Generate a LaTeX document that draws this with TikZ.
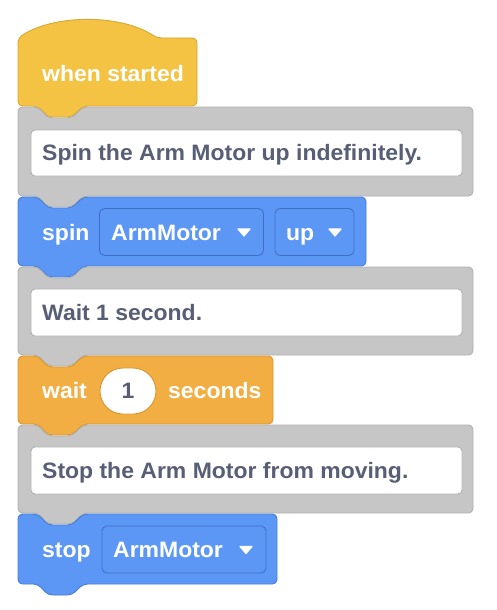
\documentclass[tikz,border=0pt]{standalone}
\usepackage{fontspec}
\setmainfont{Liberation Sans}[FakeStretch=1.03]
\definecolor{hatY}{RGB}{244,195,68}
\definecolor{hatYb}{RGB}{214,168,52}
\definecolor{blueB}{RGB}{92,151,246}
\definecolor{blueBb}{RGB}{70,124,214}
\definecolor{blueDd}{RGB}{62,112,200}
\definecolor{orgB}{RGB}{242,174,66}
\definecolor{orgBb}{RGB}{214,150,50}
\definecolor{grayB}{RGB}{198,198,198}
\definecolor{grayBb}{RGB}{176,176,176}
\definecolor{txtD}{RGB}{87,94,117}
\tikzset{
  blk/.style={line width=0.9pt, rounded corners=4.5pt, line join=round},
  hatblk/.style={blk, fill=hatY, draw=hatYb},
  blueblk/.style={blk, fill=blueB, draw=blueBb},
  orgblk/.style={blk, fill=orgB, draw=orgBb},
  grayblk/.style={blk, fill=grayB, draw=grayBb},
  cbox/.style={fill=white, draw=grayBb, line width=0.9pt, rounded corners=4pt},
  ddbox/.style={fill=blueB, draw=blueDd, line width=0.9pt, rounded corners=5pt},
  wtxt/.style={anchor=base west, inner sep=0pt, text=white, font=\fontsize{22.3}{26}\selectfont\bfseries},
  dtxt/.style={anchor=base west, inner sep=0pt, text=txtD, font=\fontsize{22.3}{26}\selectfont\bfseries},
  tri/.style={fill=white, draw=white, line width=1.2pt, line join=round}
}
\newcommand\stackshape[5]{%
  \path[#5] (#1,{(#2+#4)/2}) -- (#1,#2) -- ({#1+20},#2) -- ({#1+30},{#2+11}) -- ({#1+54},{#2+11}) -- ({#1+65},#2) -- (#3,#2) -- (#3,#4) -- ({#1+65},#4) -- ({#1+54},{#4+11}) -- ({#1+30},{#4+11}) -- ({#1+20},#4) -- (#1,#4) -- cycle;}
\newcommand\ddtri[2]{%
  \path[tri] ({#1-6},{#2-3.5}) -- ({#1+6},{#2-3.5}) -- (#1,{#2+3.5}) -- cycle;}
\begin{document}
\begin{tikzpicture}[x=1pt,y=-1pt]
\useasboundingbox (0,0) rectangle (496,610);
% hat block
\path[hatblk] (18,70) -- (18,38) .. controls (54,14) and (121,14) .. (157,38) -- (197,38) -- (197,106) -- (83,106) -- (72,117) -- (48,117) -- (38,106) -- (18,106) -- cycle;
\node[wtxt] (hatT) at (42,81.5) {when started};
% comment 1
\stackshape{18}{107}{473}{196}{grayblk}
\path[cbox] (31,130) rectangle (462,176);
\node[dtxt] (c1) at (42,160.5) {Spin the Arm Motor up indefinitely.};
% spin block
\stackshape{18}{197}{366}{266}{blueblk}
\node[wtxt] (spinT) at (42,240) {spin};
\path[ddbox] (99.5,208.5) rectangle (263.5,255.5);
\node[wtxt] (dd1) at (111,240) {ArmMotor};
\ddtri{244}{232.5}
\path[ddbox] (275,208.5) rectangle (354,255.5);
\node[wtxt] (dd2) at (286,240) {up};
\ddtri{335}{232.5}
% comment 2
\stackshape{18}{267}{473}{355}{grayblk}
\path[cbox] (31,289) rectangle (462,336);
\node[dtxt] (c2) at (42,320) {Wait 1 second.};
% wait block
\stackshape{18}{356}{273}{424}{orgblk}
\node[wtxt] (waitT) at (42,398) {wait};
\path[fill=white, draw=orgBb, line width=0.9pt, rounded corners=23pt] (100,368) rectangle (156,414);
\node[dtxt, anchor=base] (one) at (128,398) {1};
\node[wtxt] (secT) at (168,398) {seconds};
% comment 3
\stackshape{18}{425}{473}{513}{grayblk}
\path[cbox] (31,447) rectangle (462,494);
\node[dtxt] (c3) at (42,478) {Stop the Arm Motor from moving.};
% stop block
\stackshape{18}{514}{277}{584}{blueblk}
\node[wtxt] (stopT) at (42,557) {stop};
\path[ddbox] (102,526) rectangle (266,573);
\node[wtxt] (dd3) at (113,557) {ArmMotor};
\ddtri{246}{550}
\end{tikzpicture}
\end{document}
